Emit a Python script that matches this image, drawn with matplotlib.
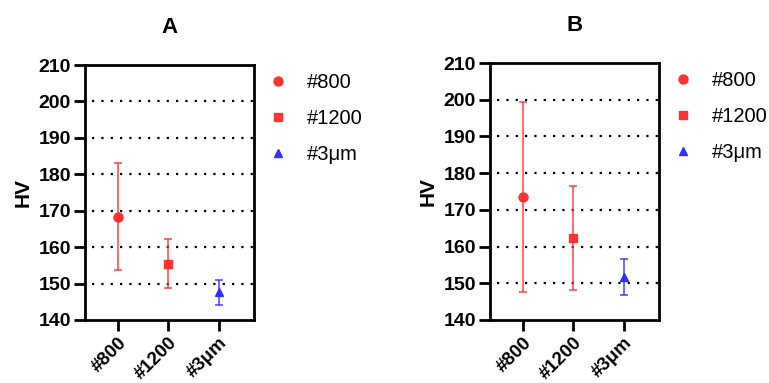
import numpy as np
import matplotlib
matplotlib.use('Agg')
import matplotlib.pyplot as plt

plt.rcParams['font.family'] = ['Liberation Sans', 'DejaVu Sans']

groups = ['#800', '#1200', '#3\u03bcm']
panels = ['A', 'B']
means_a = [168.3, 155.4, 147.6]
errs_a = [14.7, 6.7, 3.4]
means_b = [173.5, 162.4, 151.8]
errs_b = [26.0, 14.1, 4.9]

markers = ['o', 's', '^']
colors = ['#ff2a2a', '#ff2a2a', '#2a2aff']

fig = plt.figure(figsize=(7.69, 3.83), dpi=100)
boxes = [[85/769, 65/383, 169/769, 255/383], [490/769, 63/383, 169/769, 257/383]]

for title, means, errs, box in zip(panels, [means_a, means_b], [errs_a, errs_b], boxes):
    ax = fig.add_axes([box[0], 1 - box[1] - box[3], box[2], box[3]])
    for yv in range(150, 210, 10):
        ax.axhline(yv, xmin=0.04, color='black', linestyle=(0, (1, 3.2)),
                   linewidth=1.6, zorder=0)
    for i, (m, e) in enumerate(zip(means, errs)):
        ax.errorbar(i, m, yerr=e, fmt='none', ecolor=colors[i], alpha=0.75,
                    elinewidth=1.3, capsize=3, capthick=1.3)
        ax.plot(i, m, marker=markers[i], color=colors[i],
                markersize=[6.5, 6, 6][i], linestyle='none',
                label=groups[i], alpha=0.95)
    ax.set_xlim(-0.65, 2.7)
    ax.set_ylim(140, 210)
    ax.set_yticks(np.arange(140, 211, 10))
    ax.set_xticks(range(len(groups)))
    ax.set_xticklabels(groups, rotation=45, ha='right', rotation_mode='anchor',
                       fontsize=13.5, fontweight='bold')
    for lab in ax.get_yticklabels():
        lab.set_fontweight('bold')
    ax.tick_params(axis='y', labelsize=14, width=2, length=8, direction='out', pad=2)
    ax.tick_params(axis='x', width=2, length=8, direction='out', pad=2)
    for sp in ax.spines.values():
        sp.set_linewidth(2)
    ax.set_ylabel('HV', fontsize=15, fontweight='bold', labelpad=4)
    ax.set_title(title, fontsize=16, fontweight='bold', pad=23)
    ax.legend(loc='upper left', bbox_to_anchor=(1.035, 1.0), frameon=False,
              borderaxespad=0, fontsize=14.5, handletextpad=0.95,
              labelspacing=0.85, handlelength=1.0)

fig.savefig('out.png', dpi=100)
